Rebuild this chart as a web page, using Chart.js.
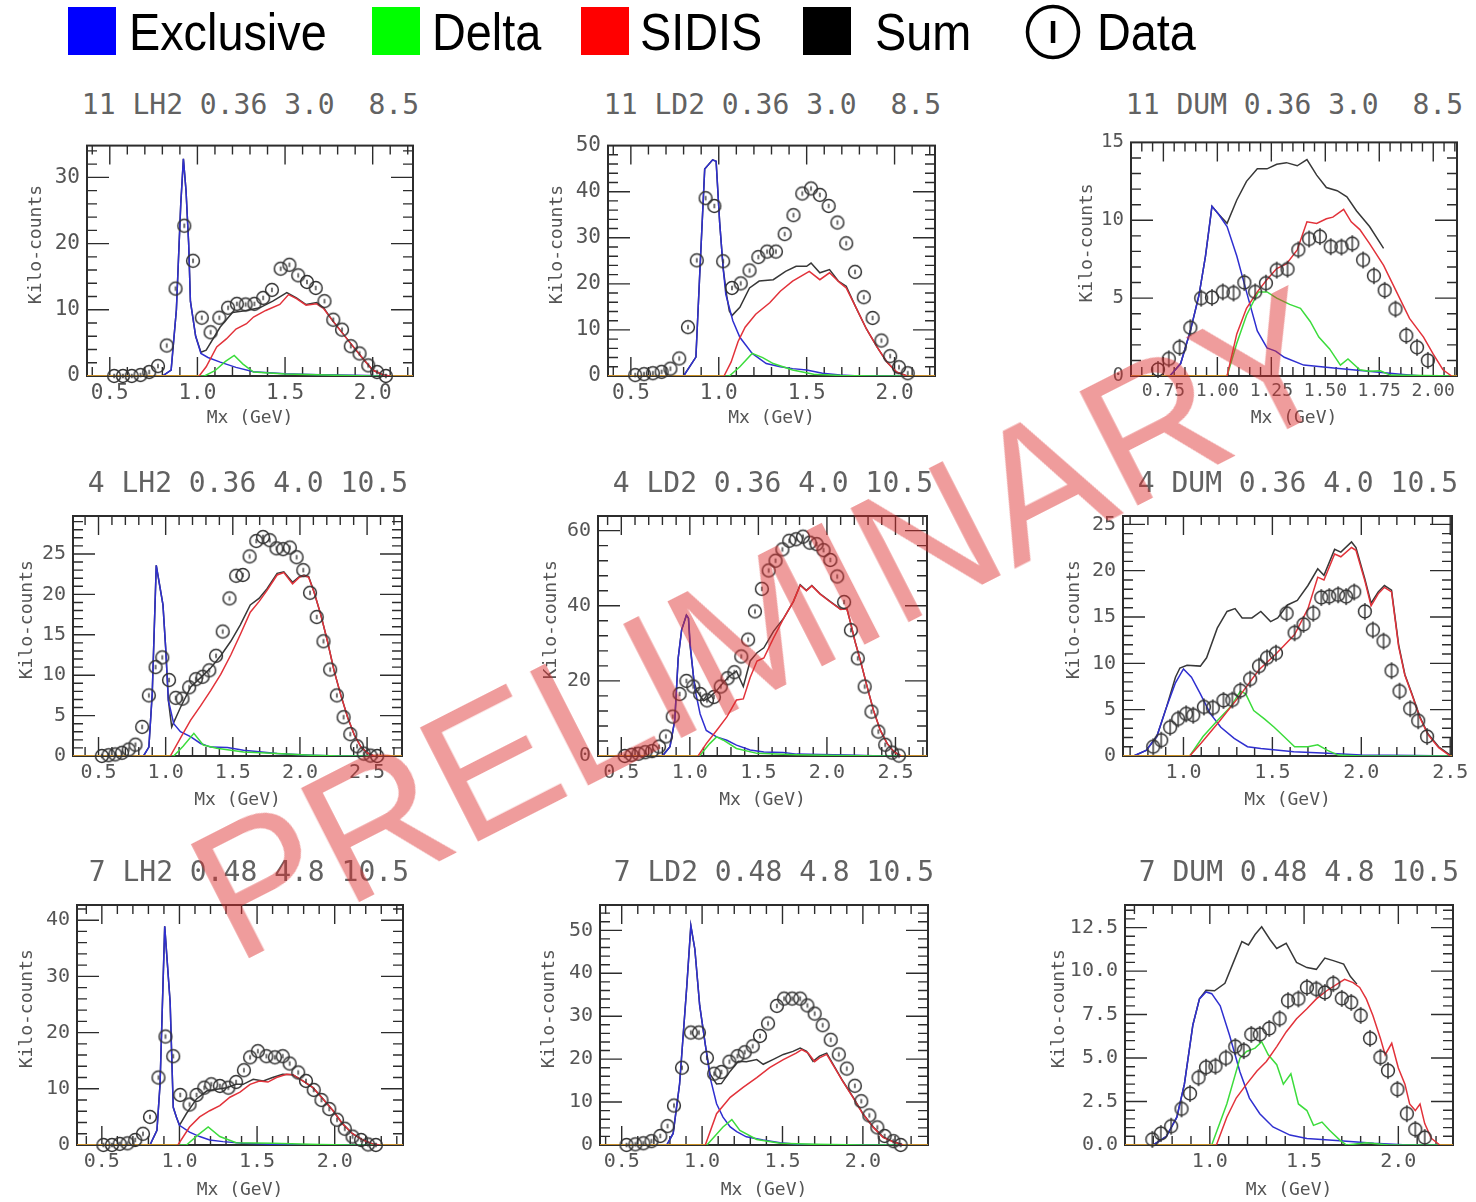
<!DOCTYPE html>
<html>
<head>
<meta charset="utf-8">
<script src="https://cdn.jsdelivr.net/npm/chart.js@4.4.0/dist/chart.umd.min.js"></script>
<style>
  html, body { margin: 0; padding: 0; background: #ffffff; }
  body { width: 1476px; height: 1202px; overflow: hidden; position: relative; }
  .pc { position: absolute; }
  .ptitle { position: absolute; left: 0; text-align: right; font-family: 'DejaVu Sans Mono', monospace; font-size: 28px; line-height: 28px; color: #626262; white-space: pre; }
  .leg-sq { position: absolute; top: 7px; width: 48px; height: 48px; }
  .leg-tx { position: absolute; top: 6px; font-family: 'Liberation Sans', Arial, sans-serif; font-size: 52px; line-height: 52px; color: #000; white-space: nowrap; transform: scaleX(0.9); transform-origin: 0 0; }
  #wm { position: absolute; left: 236px; top: 809px; font-family: 'Liberation Sans', Arial, sans-serif; font-size: 185px; line-height: 185px; color: rgba(222, 45, 45, 0.47); white-space: nowrap; transform-origin: 0 157px; transform: rotate(-27deg); pointer-events: none; z-index: 10; }
</style>
</head>
<body>
<div class="leg-sq" style="left:68px;background:#0000ff"></div>
<div class="leg-tx" style="left:129px">Exclusive</div>
<div class="leg-sq" style="left:372px;background:#00ff00"></div>
<div class="leg-tx" style="left:432px">Delta</div>
<div class="leg-sq" style="left:581px;background:#ff0000"></div>
<div class="leg-tx" style="left:640px">SIDIS</div>
<div class="leg-sq" style="left:803px;background:#000000"></div>
<div class="leg-tx" style="left:875px">Sum</div>
<svg style="position:absolute;left:1024px;top:3px" width="58" height="58"><circle cx="29" cy="29" r="25.5" fill="none" stroke="#000" stroke-width="3.5"/><rect x="26.8" y="18" width="4.5" height="22" fill="#000"/></svg>
<div class="leg-tx" style="left:1097px">Data</div>
<div id="wm">PRELIMINARY</div>
<script>
// ---------------- data ----------------
const GRID_A_X = [0.525,0.575,0.625,0.675,0.725,0.775,0.825,0.875,0.925,0.975,1.025,1.075,1.125,1.175,1.225,1.275,1.325,1.375,1.425,1.475,1.525,1.575,1.625,1.675,1.725,1.775,1.825,1.875,1.925,1.975,2.025,2.075];

// Panel 1: 11 LH2
const P1_TITLE = '11 LH2 0.36 3.0  8.5';
const P1_X_RANGE = [0.37, 2.23];
const P1_Y_RANGE = [0, 34.8];
const P1_X_TICKS = [0.5, 1.0, 1.5, 2.0];
const P1_X_LABELS = ['0.5', '1.0', '1.5', '2.0'];
const P1_Y_TICKS = [0, 10, 20, 30];
const P1_Y_LABELS = ['0', '10', '20', '30'];
const P1_DATA_X = GRID_A_X;
const P1_DATA_Y = [0,0,0,0.15,0.6,1.5,4.6,13.2,22.7,17.4,8.8,6.6,8.8,10.3,10.9,10.8,10.9,11.8,13.0,16.2,16.8,15.2,14.2,13.3,11.3,8.5,7.0,4.5,3.4,1.6,0.6,0];
const P1_EXCLUSIVE = [[0.37,0],[0.80,0],[0.85,0.9],[0.88,10],[0.905,26],[0.92,32.8],[0.935,28],[0.95,20],[0.96,11.3],[0.99,6],[1.02,3.4],[1.06,2.8],[1.13,2.1],[1.22,1.3],[1.32,0.65],[1.5,0.35],[1.7,0.2],[1.9,0.1],[2.1,0],[2.23,0]];
const P1_DELTA = [[0.37,0],[1.04,0],[1.1,0.8],[1.16,2.2],[1.21,3.1],[1.26,1.8],[1.32,0.6],[1.5,0.3],[1.8,0.1],[2.0,0],[2.23,0]];
const P1_SIDIS = [[0.37,0],[1.01,0],[1.05,1.4],[1.11,4.4],[1.165,5.6],[1.22,7.1],[1.28,7.9],[1.32,8.9],[1.39,9.9],[1.47,10.8],[1.52,12.3],[1.565,11.7],[1.62,10.7],[1.68,10.9],[1.72,10.2],[1.77,8.4],[1.83,6.4],[1.89,4.4],[1.945,2.6],[2.0,0.9],[2.06,0.15],[2.1,0],[2.23,0]];
const P1_SUM = [[0.37,0],[0.80,0],[0.85,0.9],[0.88,10],[0.905,26],[0.92,32.8],[0.935,28],[0.95,20],[0.96,11.3],[0.99,6],[1.02,3.6],[1.05,3.9],[1.13,7.4],[1.2,9.6],[1.28,9.9],[1.355,10.3],[1.43,11.3],[1.51,12.6],[1.565,11.8],[1.62,10.8],[1.68,11.1],[1.72,10.3],[1.77,8.4],[1.83,6.4],[1.89,4.4],[1.945,2.6],[2.0,0.9],[2.06,0.15],[2.1,0],[2.23,0]];

// Panel 2: 11 LD2
const P2_TITLE = '11 LD2 0.36 3.0  8.5';
const P2_X_RANGE = [0.37, 2.23];
const P2_Y_RANGE = [0, 50];
const P2_X_TICKS = [0.5, 1.0, 1.5, 2.0];
const P2_X_LABELS = ['0.5', '1.0', '1.5', '2.0'];
const P2_Y_TICKS = [0, 10, 20, 30, 40, 50];
const P2_Y_LABELS = ['0', '10', '20', '30', '40', '50'];
const P2_DATA_X = GRID_A_X;
const P2_DATA_Y = [0.2,0.4,0.6,0.9,1.6,3.8,10.6,25.1,38.6,36.9,24.9,19.1,20.1,22.9,25.8,27.0,27.0,30.8,34.9,39.6,40.7,39.3,36.9,33.3,28.8,22.6,17.1,12.6,7.7,4.3,1.9,0.6];
const P2_EXCLUSIVE = [[0.37,0],[0.8,0],[0.87,4.1],[0.89,20.6],[0.92,44.9],[0.965,46.9],[0.985,46.6],[1.005,33.4],[1.025,23.4],[1.04,17.7],[1.08,12],[1.12,8.4],[1.19,4.9],[1.27,2.7],[1.35,2.0],[1.42,1.6],[1.5,1.3],[1.59,0.6],[1.69,0.2],[1.8,0],[2.23,0]];
const P2_DELTA = [[0.37,0],[1.06,0],[1.12,2.0],[1.19,4.9],[1.25,4.0],[1.31,2.7],[1.42,1.3],[1.54,0.4],[1.7,0.1],[1.9,0],[2.23,0]];
const P2_SIDIS = [[0.37,0],[1.03,0],[1.07,3.0],[1.11,7.5],[1.15,10.6],[1.21,13.4],[1.29,15.9],[1.35,18.4],[1.42,20.6],[1.515,22.7],[1.575,20.9],[1.63,22.4],[1.69,20.2],[1.725,19.1],[1.78,14.9],[1.84,10.2],[1.9,6.3],[1.955,3.1],[2.01,0.9],[2.07,0],[2.23,0]];
const P2_SUM = [[0.37,0],[0.8,0],[0.87,4.1],[0.89,20.6],[0.92,44.9],[0.965,46.9],[0.985,46.6],[1.005,33.4],[1.025,23.4],[1.045,17.5],[1.06,14.1],[1.075,13.1],[1.12,14.9],[1.175,19.1],[1.23,20.6],[1.31,20.9],[1.38,22.7],[1.44,23.8],[1.5,23.8],[1.525,24.5],[1.575,22.4],[1.63,23.1],[1.68,20.6],[1.725,19.5],[1.78,14.9],[1.84,10.2],[1.9,6.3],[1.955,3.1],[2.01,0.9],[2.07,0],[2.23,0]];

// Panel 3: 11 DUM
const P3_TITLE = '11 DUM 0.36 3.0  8.5';
const P3_X_RANGE = [0.60, 2.11];
const P3_Y_RANGE = [0, 15];
const P3_X_TICKS = [0.75, 1.0, 1.25, 1.5, 1.75, 2.0];
const P3_X_LABELS = ['0.75', '1.00', '1.25', '1.50', '1.75', '2.00'];
const P3_Y_TICKS = [0, 5, 10, 15];
const P3_Y_LABELS = ['0', '5', '10', '15'];
const P3_DATA_X = [0.725,0.775,0.825,0.875,0.925,0.975,1.025,1.075,1.125,1.175,1.225,1.275,1.325,1.375,1.425,1.475,1.525,1.575,1.625,1.675,1.725,1.775,1.825,1.875,1.925,1.975];
const P3_DATA_Y = [0.42,1.1,1.84,3.1,5.0,5.04,5.4,5.33,6.0,5.4,5.96,6.8,6.86,8.1,8.8,8.95,8.3,8.28,8.5,7.45,6.44,5.5,4.3,2.6,1.84,1.0];
const P3_EXCLUSIVE = [[0.6,0],[0.78,0],[0.83,0.8],[0.875,2.9],[0.915,5.2],[0.945,7.7],[0.975,10.9],[1.005,10.4],[1.045,9.6],[1.09,7.7],[1.135,5.4],[1.185,2.9],[1.23,1.8],[1.27,1.6],[1.31,1.2],[1.4,0.7],[1.55,0.5],[1.7,0.3],[1.86,0.1],[1.95,0],[2.11,0]];
const P3_DELTA = [[0.6,0],[1.045,0],[1.09,2.1],[1.135,3.9],[1.19,5.4],[1.23,5.4],[1.275,5.0],[1.335,4.6],[1.385,4.35],[1.43,3.5],[1.47,2.5],[1.52,1.74],[1.57,0.7],[1.605,1.1],[1.66,0.4],[1.705,0.3],[1.755,0.33],[1.8,0.06],[2.11,0]];
const P3_SIDIS = [[0.6,0],[1.045,0],[1.09,2.7],[1.135,4.35],[1.185,5.4],[1.23,6.2],[1.275,6.9],[1.32,7.2],[1.37,8.1],[1.415,9.9],[1.46,9.8],[1.505,10.1],[1.535,10.2],[1.585,10.7],[1.62,9.9],[1.66,9.4],[1.705,8.5],[1.77,7.1],[1.83,5.4],[1.89,3.7],[1.955,2.5],[2.0,1.4],[2.045,0.4],[2.085,0],[2.11,0]];
const P3_SUM = [[0.6,0],[0.78,0],[0.83,0.8],[0.875,2.9],[0.915,5.2],[0.945,7.7],[0.975,10.9],[1.005,10.4],[1.045,9.8],[1.09,11.3],[1.135,12.5],[1.185,13.3],[1.23,13.3],[1.275,13.6],[1.32,13.7],[1.37,13.5],[1.415,13.9],[1.46,12.9],[1.505,12.1],[1.555,11.9],[1.6,11.5],[1.645,10.6],[1.705,9.6],[1.77,8.2]];

// Panel 4: 4 LH2
const P4_TITLE = '4 LH2 0.36 4.0 10.5';
const P4_X_RANGE = [0.31, 2.76];
const P4_Y_RANGE = [0, 29.7];
const P4_X_TICKS = [0.5, 1.0, 1.5, 2.0, 2.5];
const P4_X_LABELS = ['0.5', '1.0', '1.5', '2.0', '2.5'];
const P4_Y_TICKS = [0, 5, 10, 15, 20, 25];
const P4_Y_LABELS = ['0', '5', '10', '15', '20', '25'];
const P4_DATA_X = [0.525,0.575,0.625,0.675,0.725,0.775,0.825,0.875,0.925,0.975,1.025,1.075,1.125,1.175,1.225,1.275,1.325,1.375,1.425,1.475,1.525,1.575,1.625,1.675,1.725,1.775,1.825,1.875,1.925,1.975,2.025,2.075,2.125,2.175,2.225,2.275,2.325,2.375,2.425,2.475,2.525,2.575];
const P4_DATA_Y = [0,0.1,0.2,0.4,0.8,1.4,3.6,7.5,11.0,12.2,9.4,7.2,7.1,8.5,9.5,9.8,10.6,12.4,15.4,19.5,22.3,22.4,24.7,26.6,27.1,26.7,25.7,25.6,25.8,24.6,23.0,20.2,17.2,14.2,10.7,7.5,4.8,2.7,1.2,0.3,0.05,0];
const P4_EXCLUSIVE = [[0.31,0],[0.835,0],[0.875,1.1],[0.9,7.7],[0.93,23.6],[0.98,18.7],[1.0,13.4],[1.02,6.9],[1.06,4.0],[1.11,3.0],[1.185,2.4],[1.26,1.55],[1.335,1.1],[1.46,1.05],[1.58,0.7],[1.83,0.3],[2.08,0.1],[2.3,0],[2.76,0]];
const P4_DELTA = [[0.31,0],[1.06,0],[1.13,1.2],[1.21,2.8],[1.28,1.35],[1.38,0.95],[1.58,0.5],[1.83,0.3],[2.08,0.1],[2.3,0],[2.76,0]];
const P4_SIDIS = [[0.31,0],[1.035,0],[1.11,2.2],[1.185,4.4],[1.26,6.2],[1.335,8.1],[1.41,10.1],[1.485,12.5],[1.555,15.0],[1.63,17.8],[1.695,19.1],[1.755,20.5],[1.83,22.4],[1.88,22.7],[1.945,21.3],[1.995,22.1],[2.03,22.3],[2.065,22.1],[2.105,20.3],[2.155,17.5],[2.205,14.2],[2.255,10.5],[2.305,7.5],[2.355,4.8],[2.405,2.6],[2.455,1.1],[2.5,0.4],[2.55,0],[2.76,0]];
const P4_SUM = [[0.31,0],[0.835,0],[0.875,1.1],[0.9,7.7],[0.93,23.6],[0.98,18.7],[1.0,13.4],[1.02,6.9],[1.045,3.6],[1.11,6.0],[1.185,8.5],[1.26,9.7],[1.335,10.9],[1.41,12.4],[1.485,14.2],[1.555,16.2],[1.63,18.7],[1.695,19.5],[1.755,20.7],[1.83,22.6],[1.88,22.8],[1.945,21.5],[1.995,22.2],[2.03,22.4],[2.065,22.2],[2.105,20.3],[2.155,17.5],[2.205,14.2],[2.255,10.5],[2.305,7.5],[2.355,4.8],[2.405,2.6],[2.455,1.1],[2.5,0.4],[2.55,0],[2.76,0]];

// Panel 5: 4 LD2
const P5_TITLE = '4 LD2 0.36 4.0 10.5';
const P5_X_RANGE = [0.33, 2.73];
const P5_Y_RANGE = [0, 63.9];
const P5_X_TICKS = [0.5, 1.0, 1.5, 2.0, 2.5];
const P5_X_LABELS = ['0.5', '1.0', '1.5', '2.0', '2.5'];
const P5_Y_TICKS = [0, 20, 40, 60];
const P5_Y_LABELS = ['0', '20', '40', '60'];
const P5_DATA_X = [0.525,0.575,0.625,0.675,0.725,0.775,0.825,0.875,0.925,0.975,1.025,1.075,1.125,1.175,1.225,1.275,1.325,1.375,1.425,1.475,1.525,1.575,1.625,1.675,1.725,1.775,1.825,1.875,1.925,1.975,2.025,2.075,2.125,2.175,2.225,2.275,2.325,2.375,2.425,2.475,2.525];
const P5_DATA_Y = [0,0.3,0.6,1.0,1.3,2.5,5.2,10.5,16.5,20.0,18.5,16.5,14.8,15.7,18.5,20.7,22.3,26.5,31.0,38.5,44.5,49.4,52.0,55.0,57.3,57.7,58.4,56.8,56.4,54.8,52.2,47.8,41.0,33.5,26.0,18.5,11.8,6.5,3.0,0.9,0.1];
const P5_EXCLUSIVE = [[0.33,0],[0.8,0],[0.855,2.5],[0.89,9.5],[0.915,26.1],[0.94,33.6],[0.975,37.5],[0.99,36.7],[1.005,28.8],[1.035,18.2],[1.075,11.2],[1.12,6.8],[1.195,5.1],[1.27,4.2],[1.34,2.9],[1.44,1.6],[1.54,1.05],[1.68,0.9],[1.78,0.5],[1.95,0.4],[2.15,0.25],[2.4,0],[2.73,0]];
const P5_DELTA = [[0.33,0],[1.07,0],[1.145,3.3],[1.195,5.1],[1.245,4.2],[1.34,2.0],[1.49,0.7],[1.78,0.35],[2.1,0.1],[2.4,0],[2.73,0]];
const P5_SIDIS = [[0.33,0],[1.06,0],[1.12,3.3],[1.195,6.8],[1.27,10.4],[1.34,14.9],[1.39,15.2],[1.44,20.9],[1.49,25.3],[1.54,26.1],[1.61,31.4],[1.685,36.7],[1.755,41.1],[1.805,45.4],[1.85,44.0],[1.89,45.3],[1.95,43.1],[2.025,41.0],[2.1,39.0],[2.145,39.2],[2.17,35.8],[2.205,30.5],[2.245,25.3],[2.295,18.2],[2.34,12.1],[2.39,6.8],[2.44,3.3],[2.49,1.1],[2.54,0],[2.73,0]];
const P5_SUM = [[0.33,0],[0.8,0],[0.855,2.5],[0.89,9.5],[0.915,26.1],[0.94,33.6],[0.975,37.5],[0.99,36.7],[1.0,30],[1.03,20],[1.05,17.4],[1.1,14.7],[1.145,15.6],[1.195,17.4],[1.245,19.6],[1.29,21.3],[1.34,22.6],[1.39,18.5],[1.44,25.3],[1.49,27.5],[1.54,28.8],[1.61,33.2],[1.685,36.7],[1.755,41.1],[1.805,45.6],[1.85,44.1],[1.89,45.4],[1.95,43.2],[2.025,41.1],[2.1,39.1],[2.145,39.3],[2.17,35.8],[2.205,30.5],[2.245,25.3],[2.295,18.2],[2.34,12.1],[2.39,6.8],[2.44,3.3],[2.49,1.1],[2.54,0],[2.73,0]];

// Panel 6: 4 DUM
const P6_TITLE = '4 DUM 0.36 4.0 10.5';
const P6_X_RANGE = [0.66, 2.51];
const P6_Y_RANGE = [0, 25.9];
const P6_X_TICKS = [1.0, 1.5, 2.0, 2.5];
const P6_X_LABELS = ['1.0', '1.5', '2.0', '2.5'];
const P6_Y_TICKS = [0, 5, 10, 15, 20, 25];
const P6_Y_LABELS = ['0', '5', '10', '15', '20', '25'];
const P6_DATA_X = [0.83,0.875,0.925,0.97,1.015,1.055,1.115,1.165,1.225,1.275,1.32,1.375,1.425,1.47,1.52,1.58,1.625,1.675,1.73,1.775,1.82,1.87,1.915,1.96,2.02,2.065,2.125,2.17,2.215,2.275,2.32,2.37];
const P6_DATA_Y = [1.0,1.7,3.1,4.0,4.55,4.4,5.3,5.2,6.0,6.05,7.05,8.3,9.7,10.6,11.1,15.4,13.3,14.2,15.4,17.1,17.2,17.4,17.2,17.7,15.6,13.6,12.4,9.2,7.0,5.1,3.8,2.1];
const P6_EXCLUSIVE = [[0.66,0],[0.72,0],[0.79,0.6],[0.85,2.1],[0.905,5.3],[0.955,7.9],[1.0,9.4],[1.045,8.5],[1.095,6.7],[1.15,4.6],[1.21,3.1],[1.285,1.9],[1.36,1.0],[1.435,0.8],[1.62,0.46],[1.81,0.3],[2.0,0.1],[2.3,0.05],[2.51,0]];
const P6_DELTA = [[0.66,0],[1.035,0],[1.11,2.1],[1.19,3.8],[1.265,5.3],[1.32,7.0],[1.35,6.7],[1.395,4.9],[1.455,4.0],[1.51,3.1],[1.565,2.1],[1.625,1.0],[1.7,1.0],[1.755,1.2],[1.81,0.6],[1.87,0.1],[2.0,0],[2.51,0]];
const P6_SIDIS = [[0.66,0],[1.035,0],[1.1,1.4],[1.2,3.7],[1.32,6.6],[1.425,9.3],[1.52,11.0],[1.625,13.1],[1.7,15.9],[1.755,19.3],[1.79,19.0],[1.85,21.8],[1.885,21.5],[1.945,22.5],[1.97,22.2],[2.02,18.9],[2.055,16.2],[2.095,17.5],[2.13,18.2],[2.17,17.7],[2.21,11.8],[2.245,8.7],[2.285,6.6],[2.33,4.1],[2.375,2.3],[2.435,0.9],[2.5,0],[2.51,0]];
const P6_SUM = [[0.66,0],[0.72,0],[0.79,0.6],[0.85,2.1],[0.905,5.3],[0.955,8.5],[0.98,9.5],[1.02,9.8],[1.095,9.7],[1.13,10.6],[1.19,13.8],[1.245,15.6],[1.29,15.9],[1.33,14.9],[1.385,14.9],[1.435,15.6],[1.49,14.5],[1.53,14.9],[1.585,16.3],[1.64,16.8],[1.7,18.4],[1.755,20.2],[1.79,19.5],[1.85,22.3],[1.885,22.0],[1.945,23.1],[1.97,22.5],[2.02,19.1],[2.055,16.5],[2.095,17.7],[2.13,18.4],[2.17,17.9],[2.21,12.0],[2.245,8.8],[2.285,6.7],[2.33,4.2],[2.375,2.4],[2.435,1.0],[2.5,0.1],[2.51,0]];

// Panel 7: 7 LH2
const P7_TITLE = '7 LH2 0.48 4.8 10.5';
const P7_X_RANGE = [0.34, 2.44];
const P7_Y_RANGE = [0, 42.7];
const P7_X_TICKS = [0.5, 1.0, 1.5, 2.0];
const P7_X_LABELS = ['0.5', '1.0', '1.5', '2.0'];
const P7_Y_TICKS = [0, 10, 20, 30, 40];
const P7_Y_LABELS = ['0', '10', '20', '30', '40'];
const P7_DATA_X = [0.51,0.565,0.615,0.665,0.715,0.765,0.81,0.865,0.91,0.96,1.005,1.065,1.11,1.16,1.205,1.26,1.315,1.365,1.415,1.455,1.505,1.56,1.615,1.665,1.71,1.765,1.815,1.865,1.915,1.965,2.015,2.065,2.115,2.17,2.215,2.265];
const P7_DATA_Y = [0,0,0.2,0.3,0.9,2.0,5.0,12.0,19.3,15.8,8.9,7.2,8.9,10.2,10.8,10.5,10.2,11.2,13.3,15.6,16.7,15.8,15.6,15.8,14.5,12.9,11.4,9.8,8.0,6.4,4.5,2.9,1.5,0.9,0.1,0];
const P7_EXCLUSIVE = [[0.34,0],[0.81,0],[0.855,2.6],[0.875,10.8],[0.905,38.9],[0.94,25.4],[0.96,6.7],[0.98,5.0],[1.0,3.5],[1.065,2.3],[1.13,1.5],[1.195,0.9],[1.28,0.6],[1.41,0.3],[1.62,0.1],[1.8,0],[2.44,0]];
const P7_DELTA = [[0.34,0],[1.045,0],[1.12,1.8],[1.185,3.2],[1.26,1.5],[1.365,0.4],[1.6,0.3],[1.9,0.1],[2.1,0],[2.44,0]];
const P7_SIDIS = [[0.34,0],[0.99,0],[1.065,3.2],[1.13,5.0],[1.195,6.1],[1.26,7.0],[1.325,8.5],[1.39,9.4],[1.455,10.8],[1.515,11.4],[1.57,11.2],[1.625,12.0],[1.69,12.6],[1.73,12.5],[1.795,11.4],[1.86,10.2],[1.925,8.2],[1.99,6.1],[2.05,3.8],[2.115,2.0],[2.18,0.9],[2.245,0.2],[2.29,0],[2.44,0]];
const P7_SUM = [[0.34,0],[0.81,0],[0.855,2.6],[0.875,10.8],[0.905,38.9],[0.94,25.4],[0.96,6.7],[0.98,5.0],[1.0,3.5],[1.045,5.6],[1.11,8.2],[1.175,9.6],[1.24,9.9],[1.305,10.2],[1.365,10.8],[1.41,10.8],[1.475,11.7],[1.54,11.4],[1.6,12.0],[1.665,12.6],[1.73,12.5],[1.795,11.4],[1.86,10.2],[1.925,8.2],[1.99,6.1],[2.05,3.8],[2.115,2.0],[2.18,0.9],[2.245,0.2],[2.29,0],[2.44,0]];

// Panel 8: 7 LD2
const P8_TITLE = '7 LD2 0.48 4.8 10.5';
const P8_X_RANGE = [0.365, 2.405];
const P8_Y_RANGE = [0, 55.9];
const P8_X_TICKS = [0.5, 1.0, 1.5, 2.0];
const P8_X_LABELS = ['0.5', '1.0', '1.5', '2.0'];
const P8_Y_TICKS = [0, 10, 20, 30, 40, 50];
const P8_Y_LABELS = ['0', '10', '20', '30', '40', '50'];
const P8_DATA_X = [0.53,0.585,0.635,0.685,0.74,0.785,0.825,0.875,0.93,0.98,1.03,1.075,1.12,1.17,1.22,1.265,1.315,1.36,1.41,1.465,1.51,1.56,1.61,1.655,1.7,1.75,1.8,1.85,1.9,1.95,1.99,2.04,2.09,2.135,2.19,2.235];
const P8_DATA_Y = [0,0.15,0.4,0.9,2.1,4.4,9.2,18.0,26.2,26.2,20.3,16.6,17.0,19.4,20.7,21.6,23.0,25.4,28.3,32.4,34.1,34.1,34.1,32.5,30.6,27.9,24.5,21.1,17.8,13.8,10.2,6.9,4.1,2.1,0.9,0];
const P8_EXCLUSIVE = [[0.365,0],[0.78,0],[0.82,2.7],[0.86,14.2],[0.905,37.1],[0.93,51.1],[0.955,45.6],[0.985,32.5],[1.02,23.4],[1.05,15.7],[1.09,9.6],[1.13,6.5],[1.175,4.2],[1.215,3.1],[1.275,1.9],[1.38,1.15],[1.485,0.5],[1.59,0.2],[1.8,0],[2.405,0]];
const P8_DELTA = [[0.365,0],[1.03,0],[1.13,4.2],[1.185,5.9],[1.235,3.4],[1.34,1.3],[1.485,0.4],[1.7,0.15],[2.0,0],[2.405,0]];
const P8_SIDIS = [[0.365,0],[1.02,0],[1.09,7.3],[1.175,11.1],[1.255,13.4],[1.34,15.7],[1.42,18.0],[1.505,19.9],[1.585,21.4],[1.62,22.2],[1.66,21.4],[1.7,19.4],[1.73,20.3],[1.775,21.1],[1.815,18.6],[1.875,14.8],[1.94,11.0],[2.0,7.2],[2.065,4.1],[2.125,1.8],[2.19,0.7],[2.25,0],[2.405,0]];
const P8_SUM = [[0.365,0],[0.78,0],[0.82,2.7],[0.86,14.2],[0.905,37.1],[0.93,51.1],[0.955,45.6],[0.985,32.5],[1.02,23.4],[1.05,16.5],[1.09,14.2],[1.12,14.3],[1.175,17.2],[1.225,19.5],[1.275,19.4],[1.34,19.9],[1.38,18.8],[1.44,19.9],[1.505,21.1],[1.565,21.8],[1.61,22.6],[1.65,21.8],[1.69,19.5],[1.73,20.7],[1.775,21.4],[1.815,18.8],[1.875,14.9],[1.94,11.1],[2.0,7.3],[2.065,4.2],[2.125,1.9],[2.19,0.8],[2.25,0],[2.405,0]];

// Panel 9: 7 DUM
const P9_TITLE = '7 DUM 0.48 4.8 10.5';
const P9_X_RANGE = [0.55, 2.29];
const P9_Y_RANGE = [0, 13.8];
const P9_X_TICKS = [1.0, 1.5, 2.0];
const P9_X_LABELS = ['1.0', '1.5', '2.0'];
const P9_Y_TICKS = [0, 2.5, 5, 7.5, 10, 12.5];
const P9_Y_LABELS = ['0.0', '2.5', '5.0', '7.5', '10.0', '12.5'];
const P9_DATA_X = [0.695,0.74,0.795,0.85,0.895,0.94,0.98,1.03,1.085,1.135,1.18,1.22,1.265,1.315,1.37,1.415,1.47,1.515,1.565,1.61,1.655,1.7,1.75,1.8,1.85,1.905,1.945,1.995,2.045,2.09,2.14];
const P9_DATA_Y = [0.32,0.66,1.08,2.08,2.96,3.87,4.47,4.53,5.0,5.66,5.43,6.36,6.36,6.7,7.26,8.3,8.4,9.06,8.96,8.77,9.28,8.43,8.2,7.45,6.13,5.04,4.28,3.2,1.8,0.9,0.43];
const P9_EXCLUSIVE = [[0.55,0],[0.7,0],[0.77,0.5],[0.825,1.6],[0.865,3.5],[0.91,6.9],[0.945,8.4],[0.98,8.8],[1.01,8.7],[1.055,8.0],[1.105,6.3],[1.16,4.2],[1.21,2.7],[1.265,1.8],[1.335,1.04],[1.425,0.57],[1.515,0.38],[1.69,0.25],[1.87,0.1],[2.05,0],[2.29,0]];
const P9_DELTA = [[0.55,0],[1.01,0],[1.09,2.36],[1.16,5.0],[1.195,5.38],[1.24,5.57],[1.275,5.94],[1.31,5.19],[1.355,4.62],[1.39,3.5],[1.43,4.1],[1.47,2.36],[1.515,1.98],[1.55,1.13],[1.595,1.32],[1.635,0.85],[1.69,0.28],[1.725,0],[1.83,0.13],[1.95,0],[2.29,0]];
const P9_SIDIS = [[0.55,0],[1.035,0],[1.09,1.6],[1.14,2.7],[1.195,3.5],[1.25,4.25],[1.3,4.8],[1.355,5.66],[1.405,6.5],[1.46,7.26],[1.515,7.83],[1.565,8.4],[1.62,8.87],[1.675,9.25],[1.715,9.53],[1.76,9.34],[1.795,9.06],[1.83,8.4],[1.865,7.45],[1.905,6.13],[1.93,5.19],[1.965,5.85],[2.0,4.43],[2.035,3.5],[2.06,2.36],[2.09,1.98],[2.115,2.36],[2.14,1.23],[2.175,0.38],[2.22,0],[2.29,0]];
const P9_SUM = [[0.55,0],[0.7,0],[0.77,0.5],[0.825,1.6],[0.865,3.5],[0.91,6.9],[0.945,8.4],[0.98,8.9],[1.025,8.87],[1.08,9.3],[1.125,10.5],[1.17,11.7],[1.205,11.5],[1.24,12.1],[1.275,12.55],[1.32,11.8],[1.355,11.3],[1.405,11.6],[1.46,10.5],[1.515,10.2],[1.565,10.1],[1.61,10.75],[1.655,10.6],[1.71,10.4],[1.745,9.7],[1.78,9.25]];

// ---------------- layout / style ----------------
const C_BLUE = '#2f2fd0', C_GREEN = '#3cdc3c', C_RED = '#e2323a', C_SUM = '#383838', C_ORANGE = '#f5821f';
const TXT = '#555555';
const BOXES = [
  {L:87,  T:142, R:413,  B:376,  yW:65, xH:57, tb:115, fx:21, fy:21},
  {L:608, T:142, R:935,  B:376,  yW:65, xH:57, tb:115, fx:21, fy:21},
  {L:1131,T:140, R:1457, B:376,  yW:58, xH:57, tb:115, fx:18, fy:19},
  {L:73,  T:513, R:402,  B:756,  yW:60, xH:59, tb:493, fx:20, fy:20},
  {L:598, T:513, R:927,  B:756,  yW:61, xH:59, tb:493, fx:20, fy:20},
  {L:1123,T:513, R:1452, B:756,  yW:63, xH:59, tb:493, fx:20, fy:20},
  {L:77,  T:902, R:403,  B:1145, yW:64, xH:60, tb:882, fx:20, fy:20},
  {L:600, T:902, R:928,  B:1145, yW:65, xH:60, tb:882, fx:20, fy:20},
  {L:1125,T:902, R:1453, B:1145, yW:80, xH:60, tb:882, fx:20, fy:20}
];
const PANELS = [
  {title:P1_TITLE, xr:P1_X_RANGE, yr:P1_Y_RANGE, xt:P1_X_TICKS, xl:P1_X_LABELS, yt:P1_Y_TICKS, yl:P1_Y_LABELS, dx:P1_DATA_X, dy:P1_DATA_Y, exc:P1_EXCLUSIVE, del:P1_DELTA, sid:P1_SIDIS, sum:P1_SUM, xMinor:0.1, yMinor:2, phi:false},
  {title:P2_TITLE, xr:P2_X_RANGE, yr:P2_Y_RANGE, xt:P2_X_TICKS, xl:P2_X_LABELS, yt:P2_Y_TICKS, yl:P2_Y_LABELS, dx:P2_DATA_X, dy:P2_DATA_Y, exc:P2_EXCLUSIVE, del:P2_DELTA, sid:P2_SIDIS, sum:P2_SUM, xMinor:0.1, yMinor:2, phi:false},
  {title:P3_TITLE, xr:P3_X_RANGE, yr:P3_Y_RANGE, xt:P3_X_TICKS, xl:P3_X_LABELS, yt:P3_Y_TICKS, yl:P3_Y_LABELS, dx:P3_DATA_X, dy:P3_DATA_Y, exc:P3_EXCLUSIVE, del:P3_DELTA, sid:P3_SIDIS, sum:P3_SUM, xMinor:0.05, yMinor:1, phi:true},
  {title:P4_TITLE, xr:P4_X_RANGE, yr:P4_Y_RANGE, xt:P4_X_TICKS, xl:P4_X_LABELS, yt:P4_Y_TICKS, yl:P4_Y_LABELS, dx:P4_DATA_X, dy:P4_DATA_Y, exc:P4_EXCLUSIVE, del:P4_DELTA, sid:P4_SIDIS, sum:P4_SUM, xMinor:0.1, yMinor:1, phi:false},
  {title:P5_TITLE, xr:P5_X_RANGE, yr:P5_Y_RANGE, xt:P5_X_TICKS, xl:P5_X_LABELS, yt:P5_Y_TICKS, yl:P5_Y_LABELS, dx:P5_DATA_X, dy:P5_DATA_Y, exc:P5_EXCLUSIVE, del:P5_DELTA, sid:P5_SIDIS, sum:P5_SUM, xMinor:0.1, yMinor:4, phi:false},
  {title:P6_TITLE, xr:P6_X_RANGE, yr:P6_Y_RANGE, xt:P6_X_TICKS, xl:P6_X_LABELS, yt:P6_Y_TICKS, yl:P6_Y_LABELS, dx:P6_DATA_X, dy:P6_DATA_Y, exc:P6_EXCLUSIVE, del:P6_DELTA, sid:P6_SIDIS, sum:P6_SUM, xMinor:0.1, yMinor:1, phi:true},
  {title:P7_TITLE, xr:P7_X_RANGE, yr:P7_Y_RANGE, xt:P7_X_TICKS, xl:P7_X_LABELS, yt:P7_Y_TICKS, yl:P7_Y_LABELS, dx:P7_DATA_X, dy:P7_DATA_Y, exc:P7_EXCLUSIVE, del:P7_DELTA, sid:P7_SIDIS, sum:P7_SUM, xMinor:0.1, yMinor:2, phi:false},
  {title:P8_TITLE, xr:P8_X_RANGE, yr:P8_Y_RANGE, xt:P8_X_TICKS, xl:P8_X_LABELS, yt:P8_Y_TICKS, yl:P8_Y_LABELS, dx:P8_DATA_X, dy:P8_DATA_Y, exc:P8_EXCLUSIVE, del:P8_DELTA, sid:P8_SIDIS, sum:P8_SUM, xMinor:0.1, yMinor:2, phi:false},
  {title:P9_TITLE, xr:P9_X_RANGE, yr:P9_Y_RANGE, xt:P9_X_TICKS, xl:P9_X_LABELS, yt:P9_Y_TICKS, yl:P9_Y_LABELS, dx:P9_DATA_X, dy:P9_DATA_Y, exc:P9_EXCLUSIVE, del:P9_DELTA, sid:P9_SIDIS, sum:P9_SUM, xMinor:0.1, yMinor:0.5, phi:true}
];

function makeMarker(barHalf) {
  const c = document.createElement('canvas');
  c.width = 18; c.height = Math.max(18, Math.ceil(barHalf * 2 + 4));
  const g = c.getContext('2d');
  const cx = c.width / 2, cy = c.height / 2;
  g.strokeStyle = '#333'; g.lineWidth = 1.5;
  g.beginPath(); g.arc(cx, cy, 6.4, 0, Math.PI * 2); g.stroke();
  g.lineWidth = 1.4;
  g.beginPath(); g.moveTo(cx, cy - barHalf); g.lineTo(cx, cy + barHalf); g.stroke();
  return c;
}
const MARK_SMALL = makeMarker(2.2);
const MARK_PHI = makeMarker(8.5);

const toXY = pairs => pairs.map(p => ({x: p[0], y: p[1]}));
const zipXY = (xs, ys) => xs.map((x, i) => ({x: x, y: ys[i]}));
const near = (a, b) => Math.abs(a - b) < 1e-6;

const frameTicks = {
  id: 'frameTicks',
  beforeDatasetsDraw(chart, args, o) {
    const {ctx, chartArea: a} = chart;
    const xs = chart.scales.x, ys = chart.scales.y;
    ctx.save();
    ctx.strokeStyle = '#2c2c2c';
    ctx.lineWidth = 1.4;
    ctx.beginPath();
    for (let k = Math.ceil(xs.min / o.xMinor - 1e-6); k * o.xMinor <= xs.max + 1e-9; k++) {
      const v = k * o.xMinor;
      const px = xs.getPixelForValue(v);
      if (px <= a.left + 1 || px >= a.right - 1) continue;
      const len = o.xMajor.some(m => near(m, v)) ? 19 : 9;
      ctx.moveTo(px, a.bottom); ctx.lineTo(px, a.bottom - len);
      ctx.moveTo(px, a.top); ctx.lineTo(px, a.top + len);
    }
    for (let k = Math.ceil(ys.min / o.yMinor - 1e-6); k * o.yMinor <= ys.max + 1e-9; k++) {
      const v = k * o.yMinor;
      const py = ys.getPixelForValue(v);
      if (py <= a.top + 1 || py >= a.bottom - 1) continue;
      const len = o.yMajor.some(m => near(m, v)) ? 22 : 10;
      ctx.moveTo(a.left, py); ctx.lineTo(a.left + len, py);
      ctx.moveTo(a.right, py); ctx.lineTo(a.right - len, py);
    }
    ctx.stroke();
    ctx.lineWidth = 2;
    ctx.strokeRect(a.left, a.top, a.right - a.left, a.bottom - a.top);
    ctx.restore();
  }
};

Chart.defaults.font.family = 'DejaVu Sans Mono';

PANELS.forEach((p, i) => {
  const b = BOXES[i];
  const padTop = 16, padRight = 25;
  const cv = document.createElement('canvas');
  const W = b.yW + (b.R - b.L) + padRight;
  const H = padTop + (b.B - b.T) + b.xH;
  cv.width = W; cv.height = H;
  cv.className = 'pc';
  cv.style.left = (b.L - b.yW) + 'px';
  cv.style.top = (b.T - padTop) + 'px';
  cv.style.width = W + 'px'; cv.style.height = H + 'px';
  document.body.appendChild(cv);

  const t = document.createElement('div');
  t.className = 'ptitle';
  t.style.width = (b.R + 6) + 'px';
  t.style.top = (b.tb - 23.7) + 'px';
  t.textContent = p.title;
  document.body.appendChild(t);

  const lineDs = (label, pairs, color, order, extra) => Object.assign({
    label: label, data: toXY(pairs), borderColor: color, backgroundColor: color,
    borderWidth: 1.5, pointRadius: 0, tension: 0, fill: false, order: order
  }, extra || {});

  new Chart(cv, {
    type: 'line',
    data: {
      datasets: [
        {label: 'Data', data: zipXY(p.dx, p.dy), showLine: false, pointStyle: p.phi ? MARK_PHI : MARK_SMALL, pointRadius: 6, order: 0, clip: false},
        lineDs('SIDIS', p.sid, C_RED, 1, {segment: {borderColor: c => (c.p0.parsed.y === 0 && c.p1.parsed.y === 0) ? C_ORANGE : undefined}}),
        lineDs('Delta', p.del, C_GREEN, 2),
        lineDs('Exclusive', p.exc, C_BLUE, 3),
        lineDs('Sum', p.sum, C_SUM, 4)
      ]
    },
    options: {
      responsive: false,
      animation: false,
      devicePixelRatio: 1,
      events: [],
      layout: {padding: {left: 0, top: padTop, right: padRight, bottom: 0}},
      plugins: {
        legend: {display: false},
        tooltip: {enabled: false},
        frameTicks: {xMinor: p.xMinor, yMinor: p.yMinor, xMajor: p.xt, yMajor: p.yt}
      },
      scales: {
        x: {
          type: 'linear', position: 'bottom', min: p.xr[0], max: p.xr[1],
          grid: {display: false, drawTicks: false}, border: {display: false},
          ticks: {autoSkip: false, maxRotation: 0, minRotation: 0, padding: 5, color: TXT,
                  font: {family: 'DejaVu Sans Mono', size: b.fx}, callback: (v, idx) => p.xl[idx]},
          afterBuildTicks: s => { s.ticks = p.xt.map(v => ({value: v})); },
          afterFit: s => { s.height = b.xH; },
          title: {display: true, text: 'Mx (GeV)', color: TXT, font: {family: 'DejaVu Sans Mono', size: 18}, padding: {top: 0, bottom: 4}}
        },
        y: {
          type: 'linear', position: 'left', min: p.yr[0], max: p.yr[1],
          grid: {display: false, drawTicks: false}, border: {display: false},
          ticks: {autoSkip: false, padding: 7, color: TXT,
                  font: {family: 'DejaVu Sans Mono', size: b.fy}, callback: (v, idx) => p.yl[idx]},
          afterBuildTicks: s => { s.ticks = p.yt.map(v => ({value: v})); },
          afterFit: s => { s.width = b.yW; },
          title: {display: true, text: '   Kilo-counts', color: TXT, font: {family: 'DejaVu Sans Mono', size: 18}, padding: {top: 4, bottom: 0}}
        }
      }
    },
    plugins: [frameTicks]
  });
});
</script>
</body>
</html>
